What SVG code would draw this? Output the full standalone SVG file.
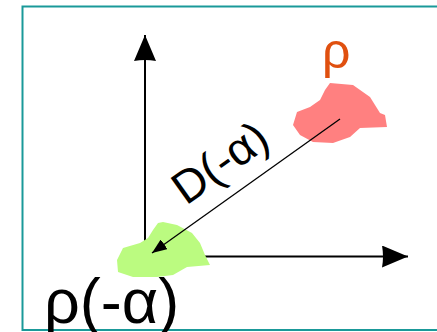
<svg xmlns="http://www.w3.org/2000/svg" width="437" height="332" viewBox="0 0 437 332">
<style>
.frame{fill:none;stroke:#1a9999;stroke-width:2}
.axis{stroke:#000;stroke-width:2;fill:none}
.thin{stroke:#000;stroke-width:1.3;fill:none}
.lbl{font-family:"Liberation Sans",Arial,sans-serif;fill:#000}
</style>
<defs>
<marker id="bigHead" markerUnits="userSpaceOnUse" markerWidth="28" markerHeight="24" refX="26" refY="11" orient="auto">
<path d="M0,0 L26,11 L0,22 Q2,11 0,0 Z" fill="#000"/>
</marker>
<marker id="smallHead" markerUnits="userSpaceOnUse" markerWidth="16" markerHeight="12" refX="15" refY="6" orient="auto">
<path d="M0,0 L15,6 L0,12 Z" fill="#000"/>
</marker>
</defs>
<rect class="frame" x="22.5" y="6.5" width="430" height="323.5"/>
<g id="blob-rho">
<path d="M330,83 L353,85 L370,97 L380,113 L385,115 L387,127 L360,128 L350,137 L333,143 L313,142 L300,135 L293,125 L297,112 L310,107 L320,100 L325,90 Z" fill="#ff8080"/>
<text class="lbl" x="322" y="68" font-size="50" style="fill:#e0500f">ρ</text>
</g>
<g id="connectors">
<line class="axis" x1="145" y1="256.5" x2="145" y2="35" marker-end="url(#bigHead)"/>
<line class="axis" x1="145" y1="256.5" x2="408" y2="256.5" marker-end="url(#bigHead)"/>
</g>
<g id="blob-rho-alpha">
<path d="M163,222 L177,225 L192,233 L200,243 L205,255 L210,265 L187,267 L173,275 L157,277 L133,277 L118,272 L117,260 L123,248 L140,243 L148,238 L153,230 L158,223 Z" fill="#bbfb80"/>
<text class="lbl" x="44" y="323" font-size="63">ρ(-α)</text>
</g>
<g id="edge-D">
<line class="thin" x1="340" y1="119" x2="152" y2="253" marker-end="url(#smallHead)"/>
<text class="lbl" x="186" y="206" font-size="46" transform="rotate(-35.5 186 206)">D(-α)</text>
</g>
</svg>
